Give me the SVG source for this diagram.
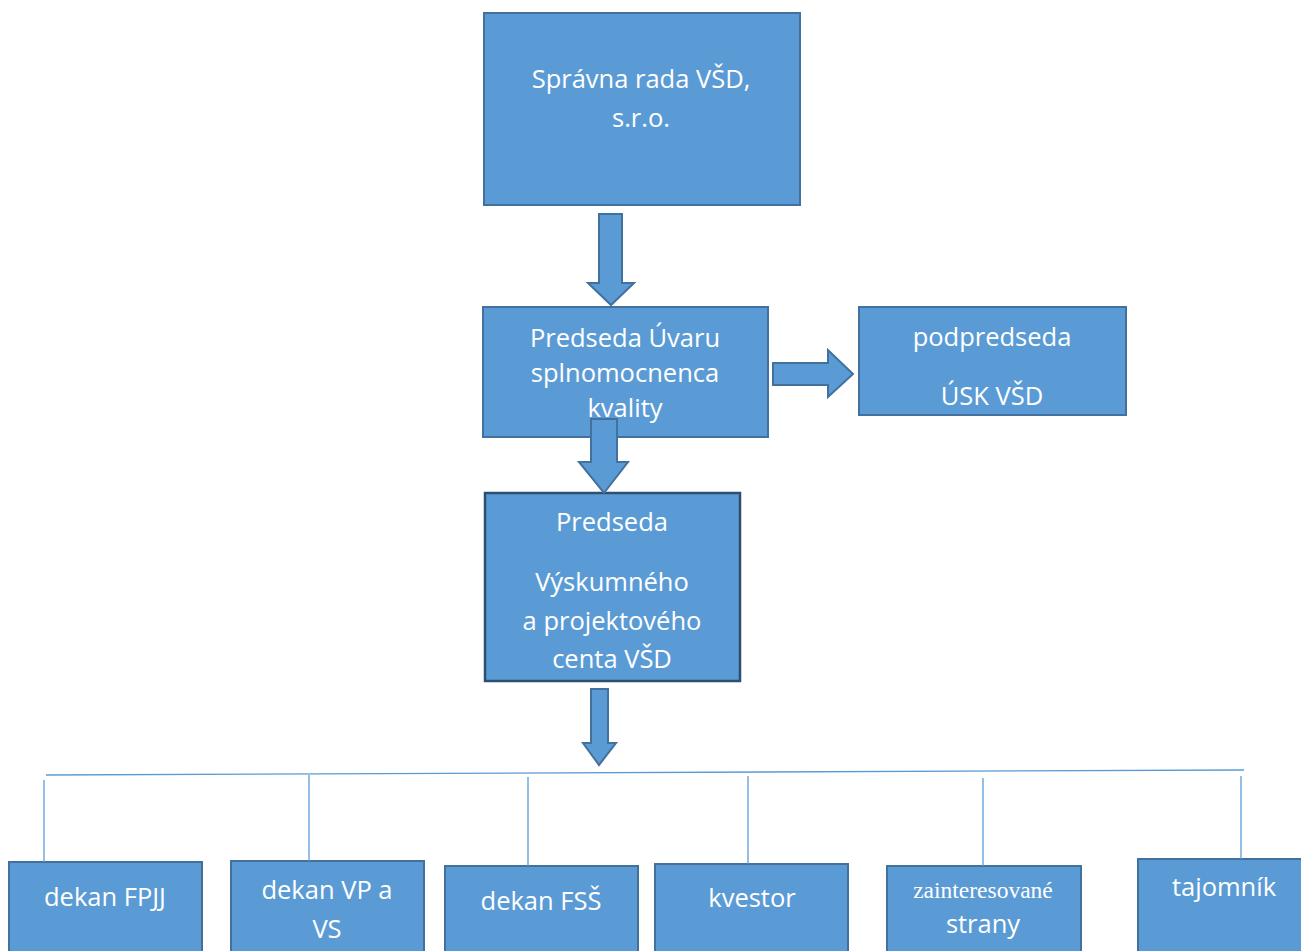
<svg xmlns="http://www.w3.org/2000/svg" width="1301" height="951" viewBox="0 0 1301 951">
<style>
.box{fill:#5b9bd5;stroke:#41719c;stroke-width:2}
.box2{fill:#5b9bd5;stroke:#2d4f72;stroke-width:2.5}
.arr{fill:#5b9bd5;stroke:#41719c;stroke-width:2;stroke-linejoin:miter}
.ln{stroke:#5b9bd5;stroke-width:1.3;fill:none}
.t{font-family:"Open Sans","Noto Sans",sans-serif;font-size:25.5px;fill:#ffffff;text-anchor:middle}
.s{font-family:"Liberation Serif",serif;font-size:23.5px;fill:#ffffff;text-anchor:middle}
</style>
<rect width="1301" height="951" fill="#ffffff"/>
<g id="n1"><rect class="box" x="484" y="13" width="316" height="192"/>
<text class="t" x="641" y="88">Správna rada VŠD,</text><text class="t" x="641" y="127">s.r.o.</text></g>
<g id="n2"><rect class="box" x="483" y="307" width="285" height="130"/>
<text class="t" x="625" y="347">Predseda Úvaru</text><text class="t" x="625" y="382">splnomocnenca</text><text class="t" x="625" y="417">kvality</text></g>
<g id="n3"><rect class="box" x="859" y="307" width="267" height="108"/>
<text class="t" x="992" y="346">podpredseda</text><text class="t" x="992" y="405">ÚSK VŠD</text></g>
<g id="n4"><rect class="box2" x="485" y="493" width="255" height="188"/>
<text class="t" x="612" y="531">Predseda</text><text class="t" x="612" y="591">Výskumného</text><text class="t" x="612" y="630">a projektového</text><text class="t" x="612" y="668">centa VŠD</text></g>
<g id="n5"><rect class="box" x="9" y="862" width="193" height="100"/><text class="t" x="105" y="906">dekan FPJJ</text></g>
<g id="n6"><rect class="box" x="231" y="861" width="193" height="100"/><text class="t" x="327" y="899">dekan VP a</text><text class="t" x="327" y="938">VS</text></g>
<g id="n7"><rect class="box" x="445" y="866" width="193" height="100"/><text class="t" x="541" y="910">dekan FSŠ</text></g>
<g id="n8"><rect class="box" x="655" y="864" width="193" height="100"/><text class="t" x="752" y="907">kvestor</text></g>
<g id="n9"><rect class="box" x="887" y="866" width="194" height="100"/><text class="s" x="983" y="898">zainteresované</text><text class="t" x="983" y="933">strany</text></g>
<g id="n10"><rect class="box" x="1138" y="859" width="180" height="100"/><text class="t" x="1224" y="896">tajomník</text></g>
<g id="connectors">
<path class="arr" d="M599,214 H622 V283 H634 L611,305 L588,283 H599 Z"/>
<path class="arr" d="M773,363 H828 V350 L853,374 L828,397 V385 H773 Z"/>
<path class="arr" d="M591,419 H617 V462 H628 L604,493 L579,462 H591 Z"/>
<path class="arr" d="M591,689 H608 V743 H616 L599,765 L583,743 H591 Z"/>
<path class="ln" d="M46,775 L1244,770"/>
<path class="ln" d="M44,780 V862"/>
<path class="ln" d="M309,775 V861"/>
<path class="ln" d="M528,777 V866"/>
<path class="ln" d="M748,776 V864"/>
<path class="ln" d="M983,778 V866"/>
<path class="ln" d="M1241,776 V859"/>
</g>
</svg>
